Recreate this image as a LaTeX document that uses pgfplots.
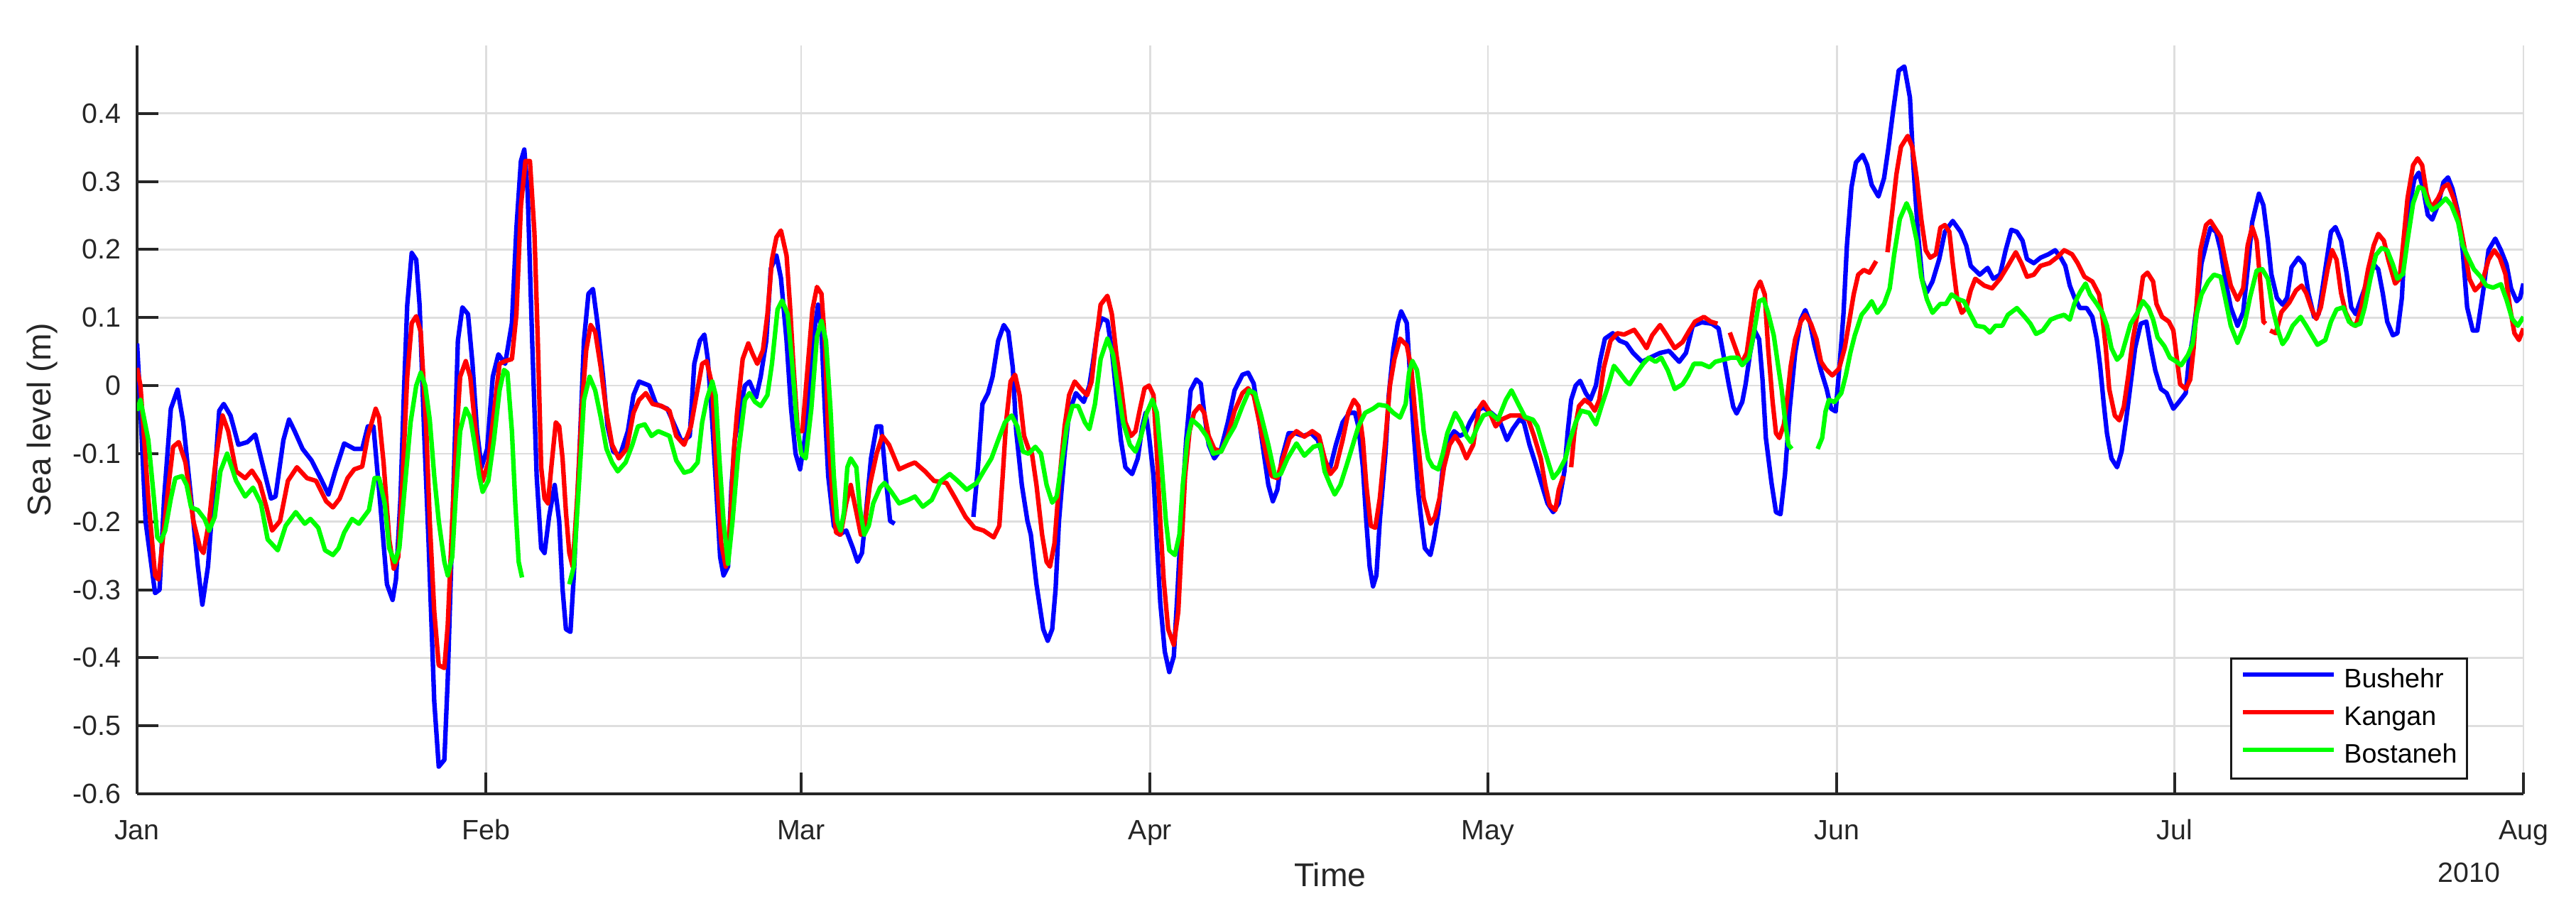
\documentclass[border=0pt]{standalone}
\usepackage{fontspec}
\setmainfont{Liberation Sans}
\usepackage{pgfplots}
\usepackage{pgfplotstable}
\pgfplotsset{compat=1.18}
\definecolor{txt}{RGB}{38,38,38}
\definecolor{gridc}{RGB}{222,222,222}
\definecolor{cb}{RGB}{0,0,255}
\definecolor{cr}{RGB}{255,0,0}
\definecolor{cg}{RGB}{0,255,0}

\pgfplotstableread{
x y
0 0.062
0.2 0.0
0.76 -0.2
1.6 -0.305
2.0 -0.30
2.4 -0.166
3.0 -0.034
3.6 -0.006
4.1 -0.054
4.8 -0.166
5.4 -0.266
5.8 -0.322
6.3 -0.266
6.9 -0.133
7.3 -0.037
7.7 -0.027
8.3 -0.044
9.0 -0.087
9.8 -0.083
10.5 -0.072
11.3 -0.126
11.9 -0.166
12.3 -0.163
13.0 -0.080
13.5 -0.050
14.0 -0.067
14.7 -0.093
15.5 -0.110
16.3 -0.136
17.0 -0.160
17.6 -0.126
18.4 -0.085
19.3 -0.093
20.0 -0.093
20.5 -0.060
21.0 -0.060
21.6 -0.173
22.2 -0.292
22.7 -0.315
23.0 -0.285
23.4 -0.166
23.7 -0.014
24.0 0.118
24.4 0.195
24.8 0.185
25.1 0.118
25.5 -0.067
25.9 -0.232
26.4 -0.464
26.8 -0.560
27.3 -0.550
27.6 -0.431
27.9 -0.266
28.2 -0.100
28.5 0.066
28.9 0.115
29.4 0.105
29.8 0.032
30.2 -0.067
30.6 -0.120
31.1 -0.093
31.6 0.013
32.1 0.046
32.7 0.032
33.3 0.092
33.7 0.231
34.1 0.330
34.4 0.347
34.7 0.284
35.1 0.066
35.5 -0.133
35.9 -0.239
36.2 -0.246
36.6 -0.193
37.1 -0.146
37.5 -0.199
37.8 -0.299
38.1 -0.358
38.5 -0.362
38.8 -0.279
39.3 -0.100
39.7 0.066
40.1 0.135
40.5 0.142
40.9 0.092
41.4 0.013
41.8 -0.060
42.3 -0.097
42.9 -0.103
43.6 -0.067
44.1 -0.014
44.6 0.006
45.5 0.0
46.1 -0.027
47.1 -0.034
47.8 -0.060
48.4 -0.083
49.1 -0.074
49.5 0.032
50.0 0.066
50.4 0.075
50.7 0.039
51.1 -0.054
51.5 -0.166
51.8 -0.252
52.1 -0.279
52.5 -0.266
52.8 -0.15
53.1 -0.080
53.6 -0.034
54.0 0.0
54.4 0.006
55.0 -0.017
55.4 0.013
55.9 0.066
56.3 0.172
56.8 0.191
57.2 0.158
57.7 0.066
58.1 -0.034
58.5 -0.100
58.9 -0.123
59.3 -0.080
59.8 0.0
60.2 0.085
60.5 0.119
60.8 0.079
61.1 -0.034
61.4 -0.133
61.9 -0.206
62.4 -0.219
63.0 -0.213
63.6 -0.239
64.0 -0.259
64.4 -0.246
64.8 -0.179
65.2 -0.107
65.7 -0.060
66.1 -0.060
66.5 -0.133
66.9 -0.199
67.3 -0.203
70 nan
74.3 -0.193
74.7 -0.120
75.1 -0.027
75.6 -0.011
76.0 0.013
76.5 0.066
77.0 0.089
77.4 0.079
77.8 0.026
78.1 -0.067
78.6 -0.146
79.1 -0.199
79.4 -0.219
79.9 -0.292
80.5 -0.358
80.9 -0.375
81.3 -0.358
81.6 -0.299
81.9 -0.199
82.4 -0.100
82.8 -0.040
83.4 -0.011
84.1 -0.024
84.6 0.0
84.9 0.032
85.3 0.079
85.7 0.099
86.2 0.095
86.6 0.052
87.0 -0.014
87.4 -0.080
87.8 -0.120
88.4 -0.130
88.9 -0.107
89.3 -0.060
89.6 -0.040
89.9 -0.074
90.3 -0.133
90.6 -0.232
90.9 -0.319
91.3 -0.391
91.7 -0.421
92.1 -0.398
92.4 -0.312
92.8 -0.186
93.2 -0.080
93.6 -0.007
94.1 0.009
94.5 0.003
94.8 -0.040
95.2 -0.087
95.7 -0.107
96.3 -0.093
96.9 -0.054
97.5 -0.007
98.2 0.016
98.7 0.019
99.2 0.003
99.6 -0.040
100.1 -0.100
100.5 -0.146
100.9 -0.170
101.3 -0.153
101.7 -0.107
102.3 -0.070
102.9 -0.070
103.6 -0.074
104.3 -0.070
104.9 -0.080
105.5 -0.113
106.0 -0.120
106.5 -0.087
107.1 -0.054
107.7 -0.040
108.2 -0.040
108.5 -0.060
108.9 -0.120
109.2 -0.199
109.5 -0.266
109.8 -0.295
110.1 -0.279
110.4 -0.199
110.9 -0.100
111.2 -0.014
111.6 0.052
112.0 0.092
112.3 0.109
112.8 0.092
113.1 0.013
113.4 -0.067
113.8 -0.153
114.1 -0.199
114.4 -0.239
114.9 -0.249
115.2 -0.226
115.6 -0.186
116.0 -0.120
116.4 -0.083
117.0 -0.067
117.5 -0.074
118.0 -0.070
118.4 -0.054
119.0 -0.037
119.6 -0.032
120.3 -0.040
121.0 -0.050
121.7 -0.080
122.2 -0.064
122.8 -0.050
123.2 -0.054
123.7 -0.087
124.2 -0.113
124.8 -0.146
125.3 -0.173
125.8 -0.186
126.3 -0.173
126.8 -0.126
127.1 -0.067
127.4 -0.021
127.8 0.0
128.2 0.007
128.7 -0.011
129.1 -0.021
129.6 0.0
130.0 0.039
130.4 0.069
131.1 0.077
131.7 0.066
132.3 0.062
132.9 0.048
133.7 0.035
134.4 0.041
135.3 0.048
136.1 0.051
137.0 0.035
137.6 0.048
138.2 0.088
139.0 0.093
139.9 0.091
140.5 0.084
140.9 0.048
141.4 0.002
141.8 -0.031
142.1 -0.041
142.6 -0.024
142.9 0.002
143.3 0.048
143.7 0.081
144.1 0.068
144.4 0.009
144.7 -0.077
145.2 -0.143
145.6 -0.186
146.0 -0.189
146.4 -0.130
146.8 -0.037
147.3 0.048
147.8 0.097
148.2 0.111
148.6 0.094
149.0 0.061
149.6 0.022
150.1 -0.005
150.5 -0.034
150.9 -0.038
151.3 0.041
151.6 0.107
151.9 0.206
152.3 0.291
152.7 0.328
153.3 0.339
153.7 0.324
154.1 0.295
154.7 0.278
155.2 0.305
155.6 0.351
156.0 0.403
156.5 0.463
157.0 0.469
157.5 0.423
157.8 0.324
158.2 0.226
158.6 0.155
159.0 0.137
159.5 0.153
160.1 0.186
160.6 0.226
161.3 0.242
162.0 0.226
162.5 0.206
162.9 0.176
163.7 0.163
164.4 0.173
164.9 0.157
165.5 0.163
166.0 0.199
166.5 0.229
167.0 0.226
167.5 0.213
167.9 0.186
168.5 0.180
169.1 0.188
169.8 0.193
170.4 0.199
170.9 0.188
171.3 0.176
171.7 0.147
172.1 0.130
172.6 0.114
173.2 0.114
173.7 0.101
174.1 0.068
174.4 0.028
174.7 -0.024
175.0 -0.070
175.4 -0.107
175.9 -0.120
176.3 -0.097
176.7 -0.051
177.1 0.002
177.5 0.055
178.0 0.091
178.5 0.094
178.9 0.055
179.3 0.022
179.8 -0.005
180.3 -0.011
180.9 -0.034
181.4 -0.024
182.0 -0.011
182.3 0.041
182.6 0.068
183.0 0.120
183.4 0.180
183.9 0.213
184.2 0.232
184.7 0.226
185.1 0.199
185.5 0.157
186.0 0.115
186.6 0.088
187.1 0.108
187.5 0.171
187.9 0.240
188.5 0.282
188.9 0.265
189.3 0.213
189.6 0.164
190.1 0.129
190.6 0.119
191.0 0.129
191.4 0.174
192.0 0.188
192.5 0.178
192.9 0.136
193.4 0.101
193.8 0.105
194.4 0.171
194.9 0.226
195.3 0.233
195.8 0.213
196.3 0.164
196.7 0.115
197.1 0.105
197.6 0.129
198.2 0.157
198.7 0.178
199.1 0.171
199.5 0.136
199.9 0.094
200.4 0.074
200.8 0.077
201.2 0.129
201.4 0.192
201.8 0.254
202.3 0.303
202.7 0.313
203.1 0.289
203.5 0.251
203.9 0.244
204.4 0.265
204.9 0.299
205.3 0.306
205.7 0.289
206.2 0.254
206.6 0.199
207.0 0.115
207.5 0.081
207.9 0.081
208.4 0.136
208.9 0.199
209.5 0.216
210.0 0.199
210.5 0.178
210.9 0.143
211.4 0.124
211.7 0.129
212.0 0.150
}\bushehr

\pgfplotstableread{
x y
0 0.026
0.3 0.0
1.0 -0.166
1.6 -0.279
1.9 -0.285
2.2 -0.239
2.8 -0.146
3.2 -0.090
3.7 -0.083
4.3 -0.113
5.0 -0.199
5.6 -0.239
5.9 -0.246
6.4 -0.199
7.0 -0.107
7.6 -0.044
8.1 -0.067
8.8 -0.126
9.6 -0.136
10.2 -0.125
10.9 -0.143
11.5 -0.179
12.0 -0.213
12.7 -0.199
13.4 -0.140
14.2 -0.120
15.1 -0.136
15.9 -0.140
16.8 -0.170
17.4 -0.179
18.0 -0.166
18.7 -0.136
19.3 -0.123
20.0 -0.119
20.5 -0.074
21.2 -0.034
21.5 -0.047
21.9 -0.113
22.4 -0.226
22.8 -0.269
23.2 -0.252
23.6 -0.133
24.0 0.013
24.4 0.092
24.8 0.102
25.2 0.079
25.7 -0.067
26.0 -0.199
26.4 -0.332
26.8 -0.411
27.3 -0.415
27.6 -0.352
28.0 -0.199
28.4 -0.067
28.7 0.013
29.2 0.036
29.6 0.013
30.0 -0.054
30.4 -0.113
30.7 -0.140
31.2 -0.113
31.7 -0.040
32.2 0.032
32.7 0.036
33.3 0.039
33.7 0.105
34.1 0.264
34.5 0.330
34.9 0.330
35.3 0.225
35.6 0.066
35.9 -0.120
36.2 -0.166
36.5 -0.173
36.8 -0.120
37.2 -0.054
37.5 -0.060
37.8 -0.107
38.1 -0.186
38.4 -0.246
38.7 -0.266
39.1 -0.166
39.5 -0.034
39.9 0.052
40.3 0.089
40.7 0.079
41.2 0.026
41.7 -0.040
42.2 -0.087
42.8 -0.107
43.5 -0.093
44.1 -0.040
44.6 -0.021
45.2 -0.011
45.8 -0.027
46.6 -0.030
47.3 -0.037
47.9 -0.074
48.6 -0.087
49.2 -0.060
49.7 -0.014
50.2 0.032
50.6 0.036
51.1 0.0
51.5 -0.133
51.9 -0.232
52.3 -0.266
52.7 -0.199
53.0 -0.10
53.3 -0.040
53.8 0.039
54.3 0.062
54.7 0.046
55.1 0.032
55.6 0.052
56.0 0.105
56.4 0.185
56.8 0.218
57.2 0.228
57.7 0.191
58.0 0.119
58.3 0.032
58.7 -0.067
59.1 -0.067
59.6 0.032
60.0 0.112
60.4 0.145
60.8 0.135
61.1 0.066
61.4 -0.067
61.8 -0.166
62.1 -0.216
62.5 -0.219
63.0 -0.173
63.4 -0.146
63.9 -0.186
64.3 -0.219
64.7 -0.199
65.1 -0.146
65.7 -0.100
66.2 -0.074
66.8 -0.087
67.7 -0.123
68.5 -0.117
69.1 -0.113
70.0 -0.126
70.8 -0.140
71.9 -0.143
72.7 -0.166
73.6 -0.193
74.4 -0.209
75.2 -0.213
76.1 -0.223
76.6 -0.206
76.9 -0.133
77.2 -0.054
77.6 0.006
78.0 0.016
78.4 -0.014
78.8 -0.074
79.2 -0.093
79.5 -0.100
79.9 -0.146
80.4 -0.219
80.8 -0.259
81.1 -0.266
81.5 -0.232
81.9 -0.146
82.4 -0.060
82.8 -0.014
83.3 0.006
83.8 -0.004
84.4 -0.014
84.8 0.006
85.2 0.066
85.6 0.119
86.2 0.132
86.6 0.105
87.0 0.046
87.4 0.0
87.8 -0.054
88.3 -0.074
88.7 -0.067
89.1 -0.034
89.5 -0.004
89.9 0.0
90.3 -0.014
90.6 -0.100
90.9 -0.199
91.2 -0.285
91.6 -0.358
92.1 -0.381
92.5 -0.332
92.8 -0.232
93.1 -0.133
93.5 -0.067
93.9 -0.040
94.4 -0.030
94.8 -0.040
95.2 -0.074
95.7 -0.093
96.3 -0.097
96.9 -0.074
97.5 -0.037
98.2 -0.011
98.7 -0.004
99.2 -0.014
99.7 -0.054
100.3 -0.100
100.8 -0.133
101.3 -0.136
101.8 -0.107
102.4 -0.077
103.0 -0.067
103.7 -0.075
104.4 -0.067
105.0 -0.074
105.5 -0.107
106.0 -0.130
106.5 -0.120
107.1 -0.080
107.6 -0.040
108.1 -0.021
108.5 -0.030
108.9 -0.080
109.2 -0.146
109.6 -0.206
110.0 -0.209
110.4 -0.166
110.9 -0.080
111.3 0.0
111.7 0.039
112.2 0.069
112.8 0.059
113.2 0.026
113.5 -0.034
113.9 -0.100
114.3 -0.166
114.9 -0.203
115.3 -0.193
115.7 -0.166
116.1 -0.120
116.6 -0.087
117.1 -0.074
117.6 -0.087
118.1 -0.107
118.7 -0.087
119.2 -0.034
119.6 -0.024
120.1 -0.037
120.7 -0.060
121.2 -0.050
122.0 -0.044
122.9 -0.044
123.6 -0.050
124.1 -0.074
124.7 -0.107
125.1 -0.146
125.5 -0.176
126.0 -0.183
126.3 -0.153
126.7 -0.133
127.0 nan
127.4 -0.120
127.7 -0.067
128.1 -0.030
128.6 -0.021
129.1 -0.027
129.5 -0.037
129.9 -0.021
130.3 0.026
130.9 0.066
131.5 0.077
132.1 0.075
133.0 0.082
133.6 0.068
134.1 0.055
134.6 0.074
135.3 0.089
135.9 0.074
136.6 0.055
137.3 0.064
137.9 0.081
138.4 0.094
139.2 0.101
139.8 0.094
140.4 0.091
141.0 nan
141.5 0.078
142.0 0.055
142.5 0.032
143.0 0.048
143.5 0.107
143.8 0.140
144.2 0.153
144.6 0.134
144.9 0.055
145.3 -0.024
145.6 -0.070
145.9 -0.077
146.3 -0.057
146.6 -0.018
146.9 0.028
147.3 0.068
147.8 0.094
148.2 0.104
148.7 0.091
149.2 0.068
149.6 0.035
150.0 0.025
150.6 0.015
151.2 0.025
151.7 0.055
152.1 0.094
152.5 0.134
152.9 0.163
153.4 0.170
153.9 0.166
154.5 0.183
155.0 nan
155.5 0.196
155.9 0.252
156.3 0.311
156.7 0.351
157.3 0.367
157.7 0.351
158.1 0.305
158.5 0.245
158.9 0.199
159.3 0.188
159.8 0.193
160.2 0.232
160.6 0.236
161.0 0.226
161.3 0.180
161.7 0.127
162.1 0.107
162.5 0.114
162.9 0.140
163.3 0.157
164.1 0.147
164.8 0.143
165.5 0.157
166.2 0.176
166.9 0.196
167.4 0.180
167.9 0.160
168.5 0.163
169.1 0.176
169.9 0.180
170.6 0.189
171.2 0.199
171.9 0.193
172.4 0.180
173.0 0.160
173.7 0.153
174.3 0.134
174.6 0.101
174.9 0.055
175.2 -0.005
175.7 -0.044
176.1 -0.051
176.5 -0.031
176.9 0.015
177.3 0.068
177.8 0.114
178.2 0.160
178.6 0.166
179.1 0.153
179.4 0.120
179.9 0.101
180.5 0.094
180.9 0.081
181.2 0.041
181.5 0.002
182.0 -0.005
182.4 0.009
182.7 0.055
183.0 0.127
183.3 0.199
183.8 0.236
184.2 0.242
184.7 0.229
185.1 0.219
185.5 0.185
186.0 0.147
186.6 0.126
187.1 0.143
187.5 0.206
187.9 0.233
188.3 0.213
188.6 0.157
188.9 0.094
189.1 0.091
189.3 nan
189.5 0.081
190.0 0.077
190.5 0.108
191.2 0.122
191.8 0.140
192.3 0.147
192.7 0.136
193.2 0.112
193.6 0.098
194.0 0.115
194.6 0.171
195.0 0.199
195.4 0.185
195.8 0.136
196.2 0.108
196.7 0.091
197.1 0.088
197.6 0.115
198.2 0.171
198.7 0.206
199.1 0.223
199.6 0.213
200.0 0.185
200.6 0.150
201.0 0.157
201.3 0.206
201.7 0.275
202.2 0.324
202.6 0.334
203.0 0.324
203.4 0.282
203.8 0.261
204.4 0.275
204.9 0.292
205.3 0.296
205.8 0.275
206.3 0.244
206.8 0.199
207.2 0.157
207.7 0.140
208.3 0.150
208.9 0.185
209.4 0.199
209.9 0.188
210.4 0.164
210.8 0.115
211.2 0.077
211.6 0.067
212.0 0.084
}\kangan

\pgfplotstableread{
x y
0 -0.037
0.3 -0.021
1.0 -0.080
1.5 -0.166
1.8 -0.223
2.1 -0.229
2.5 -0.213
3.0 -0.166
3.4 -0.136
4.0 -0.133
4.4 -0.146
4.8 -0.179
5.4 -0.183
6.0 -0.196
6.4 -0.213
6.9 -0.193
7.4 -0.126
8.0 -0.100
8.8 -0.140
9.6 -0.163
10.3 -0.150
11.0 -0.173
11.6 -0.226
12.5 -0.242
13.2 -0.206
14.1 -0.186
14.9 -0.203
15.4 -0.196
16.1 -0.209
16.7 -0.242
17.4 -0.249
17.9 -0.239
18.4 -0.216
19.1 -0.196
19.7 -0.203
20.6 -0.183
21.1 -0.136
21.5 -0.136
22.0 -0.173
22.4 -0.239
22.9 -0.259
23.3 -0.239
23.8 -0.146
24.3 -0.054
24.8 0.0
25.2 0.019
25.6 0.0
26.0 -0.05
26.4 -0.133
26.8 -0.199
27.3 -0.259
27.6 -0.279
28.0 -0.252
28.3 -0.166
28.7 -0.067
29.2 -0.034
29.6 -0.047
30.0 -0.087
30.4 -0.133
30.7 -0.156
31.2 -0.140
31.7 -0.080
32.2 -0.007
32.6 0.023
32.9 0.019
33.3 -0.067
33.6 -0.173
33.9 -0.259
34.2 -0.282
36.0 nan
38.4 -0.292
38.8 -0.266
39.3 -0.133
39.7 -0.021
40.2 0.013
40.7 -0.007
41.2 -0.047
41.7 -0.093
42.2 -0.113
42.7 -0.126
43.4 -0.113
44.0 -0.087
44.5 -0.060
45.1 -0.057
45.7 -0.074
46.3 -0.067
47.3 -0.074
47.9 -0.110
48.6 -0.128
49.2 -0.125
49.8 -0.113
50.2 -0.054
50.6 -0.021
51.1 0.006
51.4 -0.014
51.7 -0.100
52.1 -0.199
52.5 -0.262
52.9 -0.199
53.4 -0.100
54.0 -0.021
54.4 -0.011
54.9 -0.024
55.4 -0.030
56.0 -0.014
56.4 0.032
56.9 0.112
57.3 0.125
57.8 0.105
58.2 0.032
58.6 -0.054
59.0 -0.100
59.4 -0.107
59.9 -0.034
60.4 0.072
60.8 0.095
61.2 0.066
61.6 -0.034
61.9 -0.133
62.2 -0.199
62.5 -0.213
62.8 -0.186
63.1 -0.120
63.4 -0.107
63.9 -0.120
64.2 -0.179
64.6 -0.219
65.0 -0.206
65.4 -0.173
66.0 -0.150
66.4 -0.143
67.0 -0.156
67.7 -0.173
68.5 -0.168
69.1 -0.163
69.8 -0.178
70.6 -0.168
71.4 -0.140
72.2 -0.130
72.9 -0.140
73.7 -0.153
74.6 -0.143
75.2 -0.126
75.9 -0.107
76.5 -0.080
77.1 -0.054
77.7 -0.044
78.2 -0.060
78.7 -0.097
79.2 -0.100
79.8 -0.090
80.3 -0.100
80.8 -0.146
81.3 -0.172
81.7 -0.163
82.2 -0.107
82.6 -0.060
83.1 -0.030
83.6 -0.030
84.2 -0.054
84.6 -0.064
85.1 -0.027
85.6 0.039
86.2 0.069
86.7 0.046
87.1 0.0
87.6 -0.054
88.2 -0.087
88.7 -0.097
89.2 -0.074
89.7 -0.040
90.2 -0.021
90.6 -0.040
91.0 -0.113
91.4 -0.199
91.7 -0.242
92.2 -0.249
92.6 -0.219
92.9 -0.146
93.3 -0.080
93.7 -0.050
94.4 -0.060
95.0 -0.074
95.6 -0.100
96.3 -0.097
96.9 -0.077
97.5 -0.060
98.2 -0.030
98.8 -0.007
99.3 -0.011
99.8 -0.040
100.5 -0.087
101.1 -0.133
101.6 -0.130
102.2 -0.107
103.0 -0.085
103.7 -0.103
104.5 -0.090
105.1 -0.087
105.5 -0.126
106.0 -0.146
106.4 -0.160
106.9 -0.146
107.4 -0.120
107.9 -0.093
108.5 -0.060
109.1 -0.040
109.8 -0.034
110.3 -0.028
111.0 -0.030
111.6 -0.040
112.2 -0.047
112.7 -0.027
113.0 0.019
113.3 0.036
113.7 0.023
114.0 -0.014
114.3 -0.067
114.7 -0.107
115.1 -0.119
115.6 -0.123
116.0 -0.100
116.4 -0.070
117.1 -0.040
117.6 -0.054
118.1 -0.074
118.5 -0.083
119.1 -0.060
119.6 -0.044
120.2 -0.040
120.9 -0.050
121.6 -0.021
122.1 -0.007
122.7 -0.027
123.3 -0.046
124.0 -0.050
124.4 -0.060
125.0 -0.093
125.5 -0.120
125.8 -0.136
126.3 -0.126
126.9 -0.107
127.3 -0.080
127.8 -0.054
128.3 -0.037
129.0 -0.040
129.6 -0.057
130.1 -0.030
130.7 0.0
131.2 0.029
131.7 0.019
132.3 0.006
132.6 0.002
133.2 0.018
133.8 0.032
134.3 0.041
134.9 0.035
135.4 0.041
136.0 0.022
136.6 -0.005
137.3 0.002
137.8 0.015
138.3 0.032
139.0 0.032
139.7 0.027
140.2 0.035
140.9 0.038
141.6 0.041
142.2 0.041
142.6 0.030
143.2 0.041
143.6 0.074
144.1 0.124
144.5 0.127
144.9 0.107
145.4 0.074
145.8 0.028
146.1 -0.005
146.4 -0.051
146.7 -0.087
147.0 -0.093
148.0 nan
149.3 -0.093
149.7 -0.077
150.0 -0.038
150.3 -0.021
150.8 -0.024
151.4 -0.011
151.8 0.015
152.2 0.048
152.6 0.074
153.2 0.104
153.7 0.114
154.1 0.124
154.6 0.107
155.2 0.120
155.7 0.143
156.1 0.193
156.6 0.245
157.2 0.268
157.6 0.252
158.1 0.213
158.5 0.160
159.0 0.127
159.5 0.107
160.2 0.120
160.7 0.120
161.2 0.134
161.8 0.127
162.3 0.124
162.8 0.107
163.4 0.088
164.1 0.086
164.6 0.078
165.1 0.088
165.7 0.088
166.2 0.104
167.0 0.114
167.7 0.101
168.2 0.091
168.7 0.076
169.3 0.081
170.0 0.097
170.6 0.101
171.2 0.104
171.7 0.097
172.1 0.120
172.6 0.137
173.1 0.150
173.5 0.134
174.1 0.120
174.6 0.107
175.0 0.088
175.4 0.055
175.9 0.038
176.3 0.045
176.7 0.068
177.1 0.091
177.7 0.107
178.2 0.124
178.7 0.114
179.1 0.097
179.5 0.071
180.1 0.058
180.6 0.041
181.1 0.036
181.6 0.030
182.2 0.045
182.6 0.061
183.0 0.107
183.4 0.134
184.0 0.153
184.5 0.163
185.1 0.160
185.5 0.129
186.0 0.088
186.6 0.063
187.2 0.088
187.7 0.129
188.3 0.169
188.8 0.171
189.3 0.157
189.7 0.115
190.2 0.081
190.6 0.061
191.0 0.070
191.5 0.088
192.2 0.101
192.7 0.088
193.2 0.074
193.7 0.060
194.4 0.067
194.9 0.094
195.4 0.112
196.0 0.115
196.5 0.094
197.0 0.088
197.5 0.091
197.9 0.115
198.4 0.157
198.9 0.192
199.4 0.202
199.9 0.199
200.4 0.178
200.8 0.157
201.3 0.164
201.7 0.213
202.2 0.268
202.7 0.292
203.1 0.289
203.5 0.268
203.9 0.258
204.5 0.265
205.1 0.275
205.6 0.265
206.2 0.240
206.6 0.206
207.1 0.188
207.6 0.171
208.2 0.160
208.7 0.147
209.3 0.144
210.0 0.149
210.5 0.126
211.0 0.098
211.5 0.088
212.0 0.101
}\bostaneh

\begin{document}
\begin{tikzpicture}
\path[use as bounding box] (-57.9pt,-49.5pt) rectangle (1030.2pt,335.4pt);
\begin{axis}[
  at={(0pt,0pt)}, anchor=south west,
  scale only axis, width=1008pt, height=316.2pt,
  xmin=0, xmax=212, ymin=-0.6, ymax=0.5,
  axis x line*=bottom, axis y line*=left,
  axis line style={txt, line width=1.2pt},
  xtick={0,31,59,90,120,151,181,212},
  xticklabels={Jan,Feb,Mar,Apr,May,Jun,Jul,Aug},
  ytick={-0.6,-0.5,-0.4,-0.3,-0.2,-0.1,0,0.1,0.2,0.3,0.4},
  yticklabels={-0.6,-0.5,-0.4,-0.3,-0.2,-0.1,0,0.1,0.2,0.3,0.4},
  tick align=inside, major tick length=9pt,
  tick style={txt, line width=1.2pt},
  grid=major, major grid style={gridc, line width=0.8pt},
  ticklabel style={font=\fontsize{11.8}{14}\selectfont, text=txt, inner sep=0pt},
  xticklabel style={anchor=base, yshift=-19.2pt},
  yticklabel style={anchor=east, xshift=-6.6pt},
  xlabel={Time}, ylabel={Sea level (m)},
  every axis x label/.style={at={(axis description cs:0.5,0)}, anchor=center, yshift=-34.2pt, font=\fontsize{13.9}{16}\selectfont, text=txt},
  every axis y label/.style={at={(axis description cs:0,0.5)}, anchor=center, rotate=90, yshift=39.9pt, font=\fontsize{13.9}{16}\selectfont, text=txt},
  unbounded coords=jump,
  clip mode=individual,
  legend style={at={(0.9768,0.019)}, anchor=south east, draw=black!90, line width=0.9pt,
    font=\fontsize{11.3}{13}\selectfont, text=black, fill=white,
    inner xsep=4.2pt, inner ysep=1.5pt, row sep=0pt,
    nodes={inner xsep=0pt, inner ysep=2.65pt, text height=8.2pt, text depth=2.4pt},
    /tikz/every odd column/.append style={column sep=3.3pt}},
  legend cell align=left,
  legend image code/.code={\draw[#1] (0pt,2.7pt) -- (38.4pt,2.7pt);},
  every axis plot/.append style={line width=1.9pt, line join=round},
]
\addplot[cb] table[x=x,y=y] {\bushehr};
\addplot[cr] table[x=x,y=y] {\kangan};
\addplot[cg] table[x=x,y=y] {\bostaneh};
\legend{Bushehr,Kangan,Bostaneh}
\node[anchor=base east, inner sep=0pt, font=\fontsize{11.8}{14}\selectfont, text=txt] at (rel axis cs:1,0) [xshift=-9.6pt, yshift=-37.5pt] {2010};
\end{axis}
\end{tikzpicture}
\end{document}
